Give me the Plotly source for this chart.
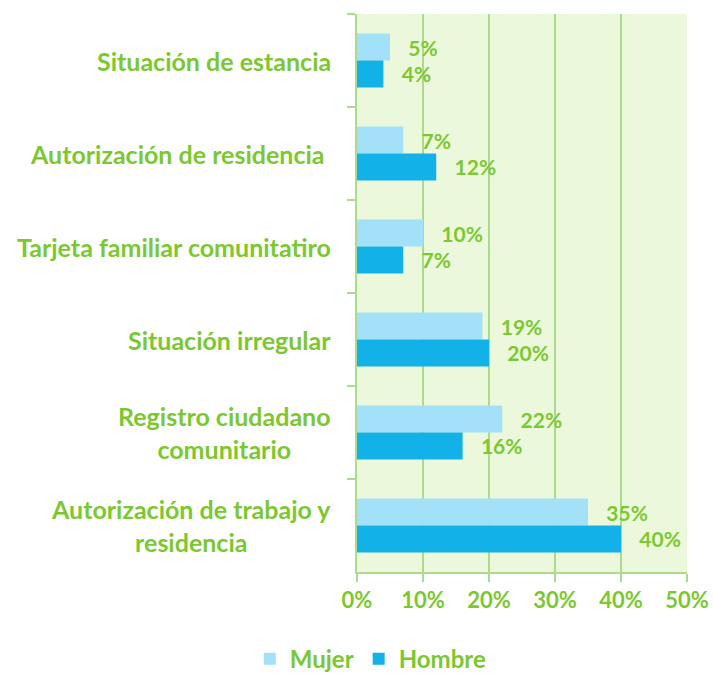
import plotly.graph_objects as go

categories = [
    "Situación de estancia",
    "Autorización de residencia ",
    "Tarjeta familiar comunitatiro",
    "Situación irregular",
    "Registro ciudadano<br>comunitario",
    "Autorización de trabajo y<br>residencia",
]
mujer = [5, 7, 10, 19, 22, 35]
hombre = [4, 12, 7, 20, 16, 40]
x_ticks = [0, 10, 20, 30, 40, 50]
x_tick_labels = ["0%", "10%", "20%", "30%", "40%", "50%"]

GREEN = "#7BC830"
GRID = "#ADDB8E"
BG = "#EBF8DB"
FONT = "Lato"
NB = "\u00a0"

fig = go.Figure()
fig.add_trace(go.Bar(
    name="Mujer", y=categories, x=mujer, orientation="h",
    marker=dict(color="#A2E1F7", line=dict(width=0)),
    text=[f"{NB*3}{v}%" for v in mujer], textposition="outside",
    constraintext="none", cliponaxis=False,
    textfont=dict(family=FONT, size=21, color=GREEN, weight="bold"),
))
fig.add_trace(go.Bar(
    name="Hombre", y=categories, x=hombre, orientation="h",
    marker=dict(color="#12B1E8", line=dict(width=0)),
    text=[f"{NB*3}{v}%" for v in hombre], textposition="outside",
    constraintext="none", cliponaxis=False,
    textfont=dict(family=FONT, size=21, color=GREEN, weight="bold"),
))

for c in categories:
    fig.add_annotation(
        x=0, xref="paper", y=c, yref="y", text=c, showarrow=False,
        xanchor="right", xshift=-24, align="center",
        font=dict(family=FONT, size=25, color=GREEN, weight="bold"),
    )

fig.update_layout(
    width=713, height=674,
    margin=dict(l=357, r=26, t=14, b=102, autoexpand=False),
    paper_bgcolor="white", plot_bgcolor=BG,
    barmode="group", bargap=0.42, bargroupgap=0,
    font=dict(family=FONT, color=GREEN, weight="bold"),
    showlegend=True,
    legend=dict(
        orientation="h", xref="container", x=0.52, xanchor="center",
        yref="container", y=0.022, yanchor="middle",
        font=dict(family=FONT, size=24, color=GREEN, weight="bold"),
        traceorder="normal",
    ),
    xaxis=dict(
        range=[0, 50], tickvals=x_ticks, ticktext=x_tick_labels,
        showgrid=True, gridcolor=GRID, gridwidth=2,
        showline=True, linecolor=GRID, linewidth=2,
        ticks="outside", ticklen=8, tickcolor=GRID, tickwidth=2,
        tickfont=dict(family=FONT, size=22, color=GREEN, weight="bold"),
        zeroline=False, fixedrange=True,
    ),
    yaxis=dict(
        autorange="reversed", showticklabels=False,
        ticks="outside", tickson="boundaries", ticklen=8, tickcolor=GRID, tickwidth=2,
        showline=True, linecolor=GRID, linewidth=2, showgrid=False,
        fixedrange=True,
    ),
)

fig.write_html("out.html", config={"displayModeBar": False},
               post_script="document.body.style.margin='0px';")
